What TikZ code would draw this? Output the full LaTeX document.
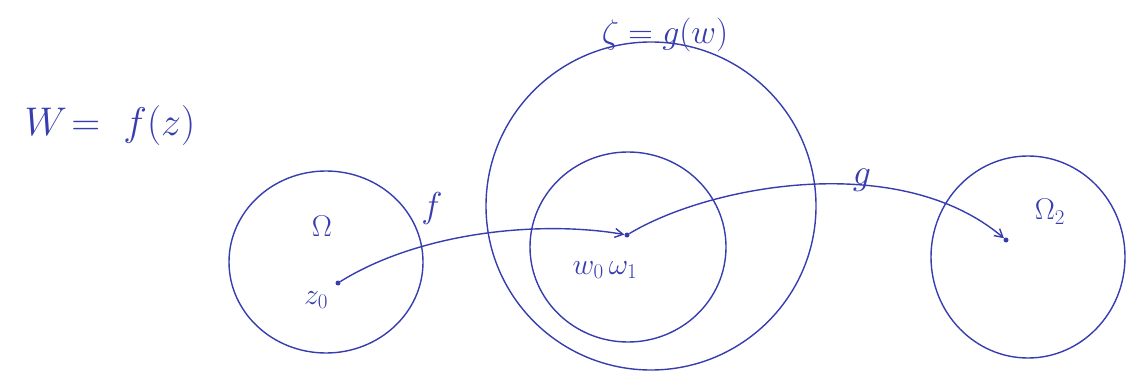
\documentclass[tikz,border=0pt]{standalone}
\usepackage{fix-cm}
\usetikzlibrary{arrows.meta}
\definecolor{ink}{RGB}{55,60,175}
\begin{document}
\begin{tikzpicture}[x=1pt,y=-1pt,
  region/.style={draw=ink,line width=1.4pt},
  map/.style={draw=ink,line width=1.4pt,-{Straight Barb[length=8pt,width=9pt]}},
  pt/.style={circle,fill=ink,inner sep=0pt,minimum size=5pt},
  lab/.style={text=ink,inner sep=1pt}]
\useasboundingbox (0,0) rectangle (1127,377);
% regions
\draw[region] (326,262) ellipse [x radius=97,y radius=91];
\draw[region] (651,206) ellipse [x radius=165,y radius=164];
\draw[region] (628,247) ellipse [x radius=98,y radius=95];
\draw[region] (1028,257) ellipse [x radius=97,y radius=101];
% points
\node[pt] (z0) at (338,283) {};
\node[pt] (w0) at (627,235) {};
\node[pt] (o2) at (1006,240) {};
% maps
\draw[map] (z0) .. controls (420,232) and (540,220) .. (w0);
\draw[map] (w0) .. controls (710,185) and (900,150) .. (o2);
% labels
\node[lab,font=\fontsize{40}{46}\selectfont] (eq1) at (110,126) {$W\!=\ f(z)$};
\node[lab,font=\fontsize{34}{40}\selectfont] (eq2) at (665,35) {$\zeta = g(w)$};
\node[lab,font=\fontsize{30}{34}\selectfont] (om) at (322,226) {$\Omega$};
\node[lab,font=\fontsize{30}{34}\selectfont] (zl) at (316,300) {$z_0$};
\node[lab,font=\fontsize{36}{40}\selectfont] (fl) at (432,208) {$f$};
\node[lab,font=\fontsize{30}{34}\selectfont] (wl) at (605,270) {$w_0\,\omega_1$};
\node[lab,font=\fontsize{36}{40}\selectfont] (gl) at (862,180) {$g$};
\node[lab,font=\fontsize{30}{34}\selectfont] (o2l) at (1050,212) {$\Omega_2$};
\end{tikzpicture}
\end{document}
